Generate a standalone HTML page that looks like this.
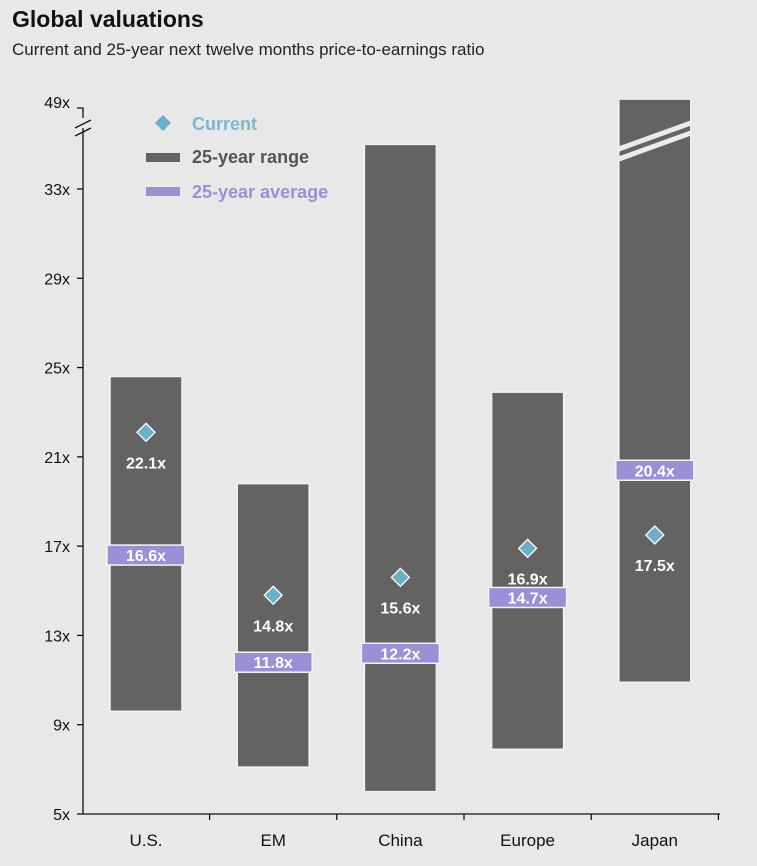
<!DOCTYPE html>
<html><head><meta charset="utf-8"><style>
body{margin:0;background:#e8e8e8;font-family:"Liberation Sans",Arial,sans-serif}
#wrap{position:relative;width:757px;height:866px;background:#e8e8e8;overflow:hidden}
.t{position:absolute;left:12px;top:6px;font-size:23px;font-weight:bold;color:#111}
.s{position:absolute;left:12px;top:40px;font-size:17px;color:#222}
</style></head><body>
<div id="wrap">
<div class="t">Global valuations</div>
<div class="s">Current and 25-year next twelve months price-to-earnings ratio</div>
<svg id="c" width="757" height="866" style="position:absolute;left:0;top:0"></svg>
</div>
<script>
const categories=["U.S.","EM","China","Europe","Japan"];
const rangeLow=[9.6,7.1,6.0,7.9,10.9];
const rangeHigh=[24.6,19.8,35.0,23.9,49];
const average=[16.6,11.8,12.2,14.7,20.4];
const current=[22.1,14.8,15.6,16.9,17.5];
const yTicks=[5,9,13,17,21,25,29,33];
const tickLabels=["5x","9x","13x","17x","21x","25x","29x","33x"];
const NS="http://www.w3.org/2000/svg";
const svg=document.getElementById('c');
const y0=814,pxu=(814-189)/28,breakY=99;
function y(v){return v>36?breakY:y0-(v-5)*pxu;}
function xc(i){return 146+i*127.2;}
function el(t,a,p){const e=document.createElementNS(NS,t);for(const k in a)e.setAttribute(k,a[k]);(p||svg).appendChild(e);return e;}
let ax=el('path',{d:"M83 814 V128 M83 118 V108 H77",stroke:"#111","stroke-width":1.3,fill:"none"});

let br=el('path',{d:"M75 128 L91 120 M75 136 L91 128",stroke:"#111","stroke-width":1.3});

let bx=el('line',{x1:83,x2:720,y1:814,y2:814,stroke:"#111","stroke-width":1.3});

let l49=el('text',{x:70,y:108,"text-anchor":"end","font-size":16,fill:"#111"});l49.textContent="49x";

yTicks.forEach((v,i)=>{
 const tk=el('line',{x1:77,x2:83,y1:y(v),y2:y(v),stroke:"#111","stroke-width":1.3});
 
 const t=el('text',{x:70,y:y(v)+6,"text-anchor":"end","font-size":16,fill:"#111"});t.textContent=tickLabels[i];
 
});
categories.forEach((c,i)=>{
 const cx=xc(i);
 const tk=el('line',{x1:cx+63.6,x2:cx+63.6,y1:814,y2:820,stroke:"#111","stroke-width":1.3});
 
 const r=el('rect',{x:cx-36,y:y(rangeHigh[i]),width:72,height:y(rangeLow[i])-y(rangeHigh[i]),fill:"#636363",stroke:"#f4f4f4","stroke-width":1.5});
 
 if(rangeHigh[i]>36){
  const b=el('path',{d:`M${cx-36} ${y(rangeHigh[i])+50} L${cx+36} ${y(rangeHigh[i])+24} M${cx-36} ${y(rangeHigh[i])+60} L${cx+36} ${y(rangeHigh[i])+34}`,stroke:"#eaeaea","stroke-width":5});
  
 }
 const ay=y(average[i]);
 const a=el('rect',{x:cx-39,y:ay-10,width:78,height:20,fill:"#9b8fd6",stroke:"#f4f4f4","stroke-width":1.5});
 
 const at=el('text',{x:cx,y:ay+6,"text-anchor":"middle","font-size":16,"font-weight":"bold",fill:"#fff"});at.textContent=average[i].toFixed(1)+"x";
 
 const cy=y(current[i]);
 const d=el('path',{d:`M${cx} ${cy-9} L${cx+9} ${cy} L${cx} ${cy+9} L${cx-9} ${cy} Z`,fill:"#6ab0ca",stroke:"#fff","stroke-width":1.3});
 
 const ct=el('text',{x:cx,y:cy+36,"text-anchor":"middle","font-size":16,"font-weight":"bold",fill:"#fff"});ct.textContent=current[i].toFixed(1)+"x";
 
 const xl=el('text',{x:cx,y:846,"text-anchor":"middle","font-size":17,fill:"#111"});xl.textContent=c;
 
});
const lg=el('g',{});
const ld=el('path',{d:"M163 115 L171 123 L163 131 L155 123 Z",fill:"#6ab0ca"},lg);
const l1=el('text',{x:192,y:130,"font-size":18,"font-weight":"bold",fill:"#7fb6cc"},lg);l1.textContent="Current";
const lr=el('rect',{x:146,y:153,width:34,height:9,fill:"#636363"},lg);
const l2=el('text',{x:192,y:163,"font-size":18,"font-weight":"bold",fill:"#555"},lg);l2.textContent="25-year range";
const la=el('rect',{x:146,y:187,width:34,height:9,fill:"#9b8fd6"},lg);
const l3=el('text',{x:192,y:198,"font-size":18,"font-weight":"bold",fill:"#9b8fd6"},lg);l3.textContent="25-year average";
</script>
</body></html>
